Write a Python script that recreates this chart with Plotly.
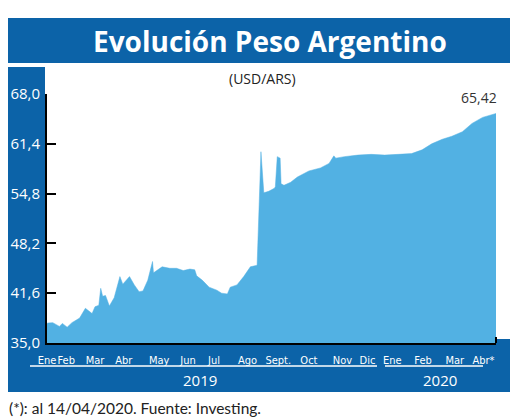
import plotly.graph_objects as go

# ---- data ----
dates = ["2019-01-02","2019-01-03","2019-01-08","2019-01-15","2019-01-18","2019-01-23","2019-01-28",
         "2019-02-05","2019-02-11","2019-02-18","2019-02-21","2019-02-25","2019-02-27","2019-03-01",
         "2019-03-04","2019-03-08","2019-03-13","2019-03-19","2019-03-22","2019-03-29","2019-04-03",
         "2019-04-08","2019-04-12","2019-04-17","2019-04-22","2019-04-23","2019-05-02","2019-05-10",
         "2019-05-17","2019-05-24","2019-05-31","2019-06-05","2019-06-07","2019-06-13","2019-06-20",
         "2019-06-28","2019-07-03","2019-07-09","2019-07-12","2019-07-19","2019-07-26","2019-08-02",
         "2019-08-09","2019-08-12","2019-08-13","2019-08-16","2019-08-21","2019-08-27","2019-08-28",
         "2019-08-30","2019-09-02","2019-09-03","2019-09-06","2019-09-13","2019-09-20","2019-10-02",
         "2019-10-14","2019-10-23","2019-10-28","2019-10-30","2019-11-08","2019-11-22","2019-12-06",
         "2019-12-20","2020-01-03","2020-01-17","2020-01-28","2020-02-07","2020-02-18","2020-02-28",
         "2020-03-10","2020-03-20","2020-03-31","2020-04-14"]
usd_ars = [37.6,37.65,37.7,37.2,37.6,37.1,37.7,
           38.3,39.6,38.9,39.8,40.0,42.25,41.2,
           41.3,39.9,41.0,43.8,42.8,43.8,42.7,
           41.8,41.9,43.3,45.8,44.3,45.1,44.9,
           44.9,44.6,44.8,44.7,43.9,43.3,42.4,
           42.0,41.6,41.5,42.4,42.7,43.8,45.1,
           45.3,55.0,60.35,54.9,55.1,55.5,55.7,
           59.7,59.5,56.1,55.9,56.3,57.0,57.8,
           58.2,58.8,59.8,59.5,59.7,59.9,60.0,
           59.9,60.0,60.1,60.6,61.4,62.0,62.4,
           63.0,64.1,64.9,65.42]

y_ticks = [35.0, 41.6, 48.2, 54.8, 61.4, 68.0]
y_tick_text = [f"{v:.1f}".replace(".", ",") for v in y_ticks]

month_tick_dates = ["2019-01-02","2019-01-22","2019-02-21","2019-03-23","2019-04-29","2019-05-29",
                    "2019-06-25","2019-07-30","2019-08-31","2019-10-02","2019-11-06","2019-12-02",
                    "2019-12-28","2020-01-29","2020-03-02","2020-04-01"]
month_labels = ["Ene","Feb","Mar","Abr","May","Jun","Jul","Ago","Sept.","Oct","Nov","Dic",
                "Ene","Feb","Mar","Abr*"]
years = ["2019", "2020"]

title = "Evolución Peso Argentino"
subtitle = "(USD/ARS)"
footnote = "(*): al 14/04/2020. Fuente: Investing."

# ---- layout helpers (page body adds an 8px margin) ----
OFF = 8
W, H = 520 - OFF, 419 - OFF
L, R, T, B = 47 - OFF, 496 - OFF, 94 - OFF, 343 - OFF
def px(x): return (x - OFF - L) / (R - L)
def py(y): return (B - (y - OFF)) / (B - T)

FRAME = "#0c63a8"
FILL = "#52b1e3"

fig = go.Figure()
fig.add_trace(go.Scatter(x=dates, y=usd_ars, mode="lines", fill="tozeroy",
                         fillcolor=FILL, line=dict(color=FILL, width=0.5),
                         hoverinfo="x+y", showlegend=False))

shapes = [
    dict(type="rect", xref="paper", yref="paper", x0=px(6), x1=px(510), y0=py(18), y1=py(63),
         fillcolor=FRAME, line=dict(width=0), layer="below"),
    dict(type="rect", xref="paper", yref="paper", x0=px(6), x1=px(45), y0=py(67), y1=py(392),
         fillcolor=FRAME, line=dict(width=0), layer="below"),
    dict(type="rect", xref="paper", yref="paper", x0=px(6), x1=px(510), y0=py(339), y1=py(392),
         fillcolor=FRAME, line=dict(width=0), layer="below"),
    dict(type="line", xref="paper", yref="paper", x0=px(30), x1=px(377), y0=py(366), y1=py(366),
         line=dict(color="white", width=1.5)),
    dict(type="line", xref="paper", yref="paper", x0=px(385), x1=px(483), y0=py(366), y1=py(366),
         line=dict(color="white", width=1.5)),
    dict(type="line", xref="paper", yref="paper", x0=1, x1=1, y0=py(343), y1=py(337),
         line=dict(color="black", width=2)),
]

annotations = [
    dict(text=f"<b>{title}</b>", xref="paper", yref="paper", x=px(270), y=py(41),
         showarrow=False, xanchor="center", yanchor="middle",
         font=dict(family="Open Sans", size=28, color="white")),
    dict(text=subtitle, xref="paper", yref="paper", x=px(262), y=py(79),
         showarrow=False, xanchor="center", yanchor="middle",
         font=dict(family="Open Sans", size=14, color="#222222")),
    dict(text=years[0], xref="paper", yref="paper", x=px(200), y=py(380),
         showarrow=False, xanchor="center", yanchor="middle",
         font=dict(family="Open Sans", size=15, color="white")),
    dict(text=years[1], xref="paper", yref="paper", x=px(440), y=py(380),
         showarrow=False, xanchor="center", yanchor="middle",
         font=dict(family="Open Sans", size=15, color="white")),
    dict(text=footnote, xref="paper", yref="paper", x=px(7), y=py(408),
         showarrow=False, xanchor="left", yanchor="middle",
         font=dict(family="Lato", size=15.5, color="#222222")),
    dict(text=f"{usd_ars[-1]:.2f}".replace(".", ","), xref="x", yref="y",
         x=dates[-1], y=usd_ars[-1], showarrow=False, xanchor="right", yanchor="bottom",
         xshift=3, yshift=4, font=dict(family="Open Sans", size=14, color="#333333")),
]

fig.update_layout(
    width=W, height=H,
    margin=dict(l=L, r=W - R, t=T, b=H - B, pad=0),
    paper_bgcolor="white", plot_bgcolor="rgba(0,0,0,0)",
    shapes=shapes, annotations=annotations,
    xaxis=dict(type="date", range=[dates[0], dates[-1]], tickvals=month_tick_dates,
               ticktext=month_labels, showgrid=False, zeroline=False, automargin=False,
               showline=True, linecolor="black", linewidth=2, ticks="", tickangle=0,
               ticklabelstandoff=6,
               tickfont=dict(family="DejaVu Sans Condensed, Liberation Sans Narrow", size=11, color="white")),
    yaxis=dict(range=[35, 68], tickvals=y_ticks, ticktext=y_tick_text, automargin=False,
               showgrid=False, zeroline=False, showline=True, linecolor="black", linewidth=2,
               ticks="inside", ticklen=9, tickwidth=2, tickcolor="black",
               ticklabelstandoff=2,
               tickfont=dict(family="Open Sans", size=15, color="white")),
)

fig.write_html("out.html")
